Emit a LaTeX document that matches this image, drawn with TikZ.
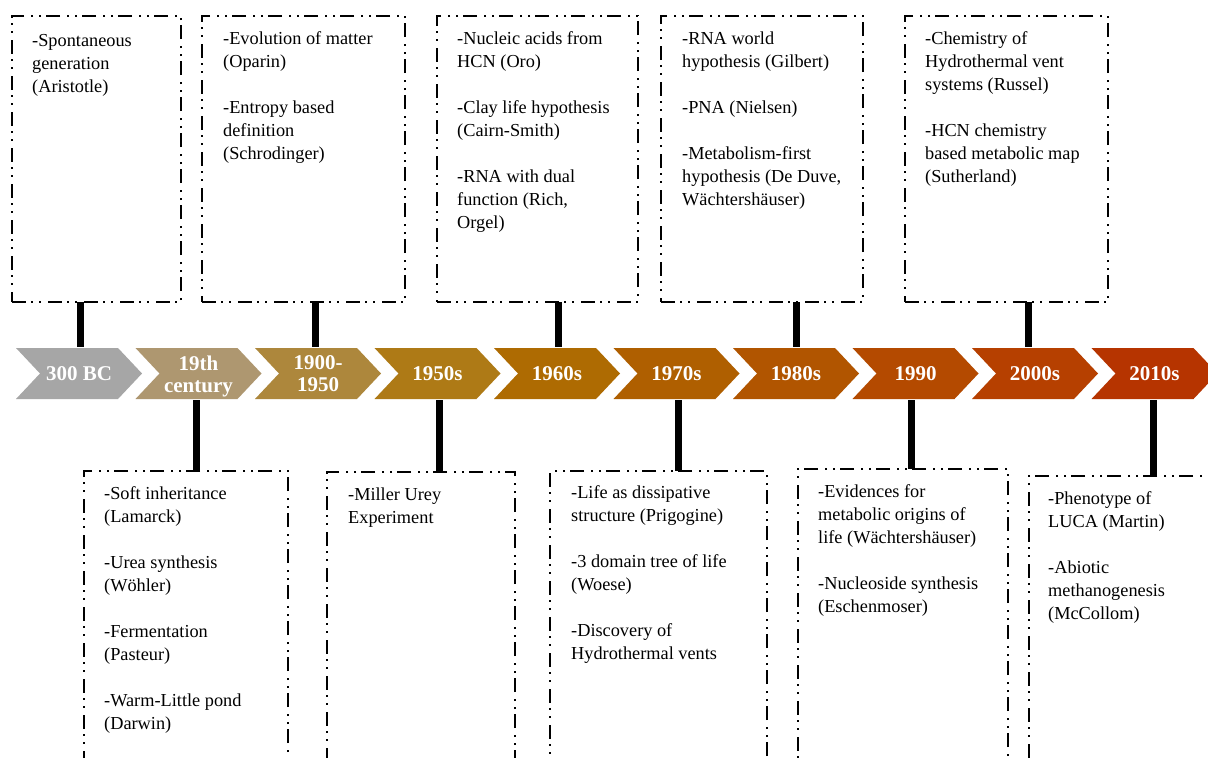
\documentclass[tikz,border=0pt]{standalone}
\usepackage{fontspec}
\setmainfont{Liberation Serif}
\definecolor{c0}{RGB}{166,166,166}
\definecolor{c1}{RGB}{174,151,112}
\definecolor{c2}{RGB}{173,135,60}
\definecolor{c3}{RGB}{174,122,22}
\definecolor{c4}{RGB}{174,107,2}
\definecolor{c5}{RGB}{175,95,0}
\definecolor{c6}{RGB}{177,85,0}
\definecolor{c7}{RGB}{180,74,0}
\definecolor{c8}{RGB}{182,64,0}
\definecolor{c9}{RGB}{182,52,0}
\begin{document}
\begin{tikzpicture}[x=1pt,y=-1pt,
  box/.style={draw=black, line width=1.5pt, dash pattern=on 14pt off 5pt on 2pt off 6pt on 2pt off 7pt, inner sep=0pt, outer sep=0pt, anchor=north west},
  stem/.style={line width=7pt, black},
  txt/.style={anchor=base west, inner sep=0pt, font=\fontsize{18.3}{23}\selectfont},
  lbl/.style={text=white, font=\fontsize{21}{22}\selectfont\bfseries, align=center, inner sep=0pt}
]
\clip (0,0) rectangle (1208,758);
\fill[white] (0,0) rectangle (1208,758);

% chevrons
\foreach \i/\col/\lab/\ly in {0/c0/{300 BC}/374, 1/c1/{19th\\century}/376, 2/c2/{1900-\\1950}/374, 3/c3/{1950s}/374, 4/c4/{1960s}/374, 5/c5/{1970s}/374, 6/c6/{1980s}/374, 7/c7/{1990}/374, 8/c8/{2000s}/374, 9/c9/{2010s}/374}{
  \pgfmathsetmacro\xo{16+119.5*\i}
  \fill[\col] (\xo,348) -- ({\xo+102},348) -- ({\xo+126},373.5) -- ({\xo+102},399) -- (\xo,399) -- ({\xo+24},373.5) -- cycle;
  \node[lbl] (L\i) at ({\xo+63},\ly) {\lab};
}

% top boxes
\node[box, minimum width=169pt, minimum height=286pt] (T1) at (12,16) {};
\node[box, minimum width=203pt, minimum height=286pt] (T2) at (202,16) {};
\node[box, minimum width=201pt, minimum height=286pt] (T3) at (437,16) {};
\node[box, minimum width=202pt, minimum height=286pt] (T4) at (661,16) {};
\node[box, minimum width=203pt, minimum height=286pt] (T5) at (905,16) {};

% bottom boxes
\node[box, minimum width=204pt, minimum height=320pt] (B1) at (84,471) {};
\node[box, minimum width=188pt, minimum height=320pt] (B2) at (327,472) {};
\node[box, minimum width=217pt, minimum height=320pt] (B3) at (550,471) {};
\node[box, minimum width=210pt, minimum height=320pt] (B4) at (798,469) {};
\node[box, minimum width=210pt, minimum height=320pt] (B5) at (1029,476) {};

% stems
\coordinate (u1) at (80,347);
\coordinate (u2) at (315,347);
\coordinate (u3) at (558,347);
\coordinate (u4) at (796,347);
\coordinate (u5) at (1028,347);
\coordinate (d1) at (196,400);
\coordinate (d2) at (439,400);
\coordinate (d3) at (678,400);
\coordinate (d4) at (911,400);
\coordinate (d5) at (1153,400);
\draw[stem] (T1.south -| u1) -- (u1);
\draw[stem] (T2.south -| u2) -- (u2);
\draw[stem] (T3.south -| u3) -- (u3);
\draw[stem] (T4.south -| u4) -- (u4);
\draw[stem] (T5.south -| u5) -- (u5);
\draw[stem] (d1) -- (d1 |- B1.north);
\draw[stem] (d2) -- (d2 |- B2.north);
\draw[stem] (d3) -- (d3 |- B3.north);
\draw[stem] (d4) -- (d4 |- B4.north);
\draw[stem] (d5) -- (d5 |- B5.north);

% texts
\node[txt] (x1) at (32,46) {\parbox[t]{250pt}{\raggedright -Spontaneous\\generation\\(Aristotle)}};
\node[txt] (x2) at (223,44) {\parbox[t]{250pt}{\raggedright -Evolution of matter\\(Oparin)\\[23pt]-Entropy based\\definition\\(Schrodinger)}};
\node[txt] (x3) at (457,44) {\parbox[t]{250pt}{\raggedright -Nucleic acids from\\HCN (Oro)\\[23pt]-Clay life hypothesis\\(Cairn-Smith)\\[23pt]-RNA with dual\\function (Rich,\\Orgel)}};
\node[txt] (x4) at (682,44) {\parbox[t]{250pt}{\raggedright -RNA world\\hypothesis (Gilbert)\\[23pt]-PNA (Nielsen)\\[23pt]-Metabolism-first\\hypothesis (De Duve,\\Wächtershäuser)}};
\node[txt] (x5) at (925,44) {\parbox[t]{250pt}{\raggedright -Chemistry of\\Hydrothermal vent\\systems (Russel)\\[23pt]-HCN chemistry\\based metabolic map\\(Sutherland)}};
\node[txt] (y1) at (104,499) {\parbox[t]{250pt}{\raggedright -Soft inheritance\\(Lamarck)\\[23pt]-Urea synthesis\\(Wöhler)\\[23pt]-Fermentation\\(Pasteur)\\[23pt]-Warm-Little pond\\(Darwin)}};
\node[txt] (y2) at (348,500) {\parbox[t]{250pt}{\raggedright -Miller Urey\\Experiment}};
\node[txt] (y3) at (571,498) {\parbox[t]{250pt}{\raggedright -Life as dissipative\\structure (Prigogine)\\[23pt]-3 domain tree of life\\(Woese)\\[23pt]-Discovery of\\Hydrothermal vents}};
\node[txt] (y4) at (818,497) {\parbox[t]{250pt}{\raggedright -Evidences for\\metabolic origins of\\life (Wächtershäuser)\\[23pt]-Nucleoside synthesis\\(Eschenmoser)}};
\node[txt] (y5) at (1048,504) {\parbox[t]{250pt}{\raggedright -Phenotype of\\LUCA (Martin)\\[23pt]-Abiotic\\methanogenesis\\(McCollom)}};
\end{tikzpicture}
\end{document}
